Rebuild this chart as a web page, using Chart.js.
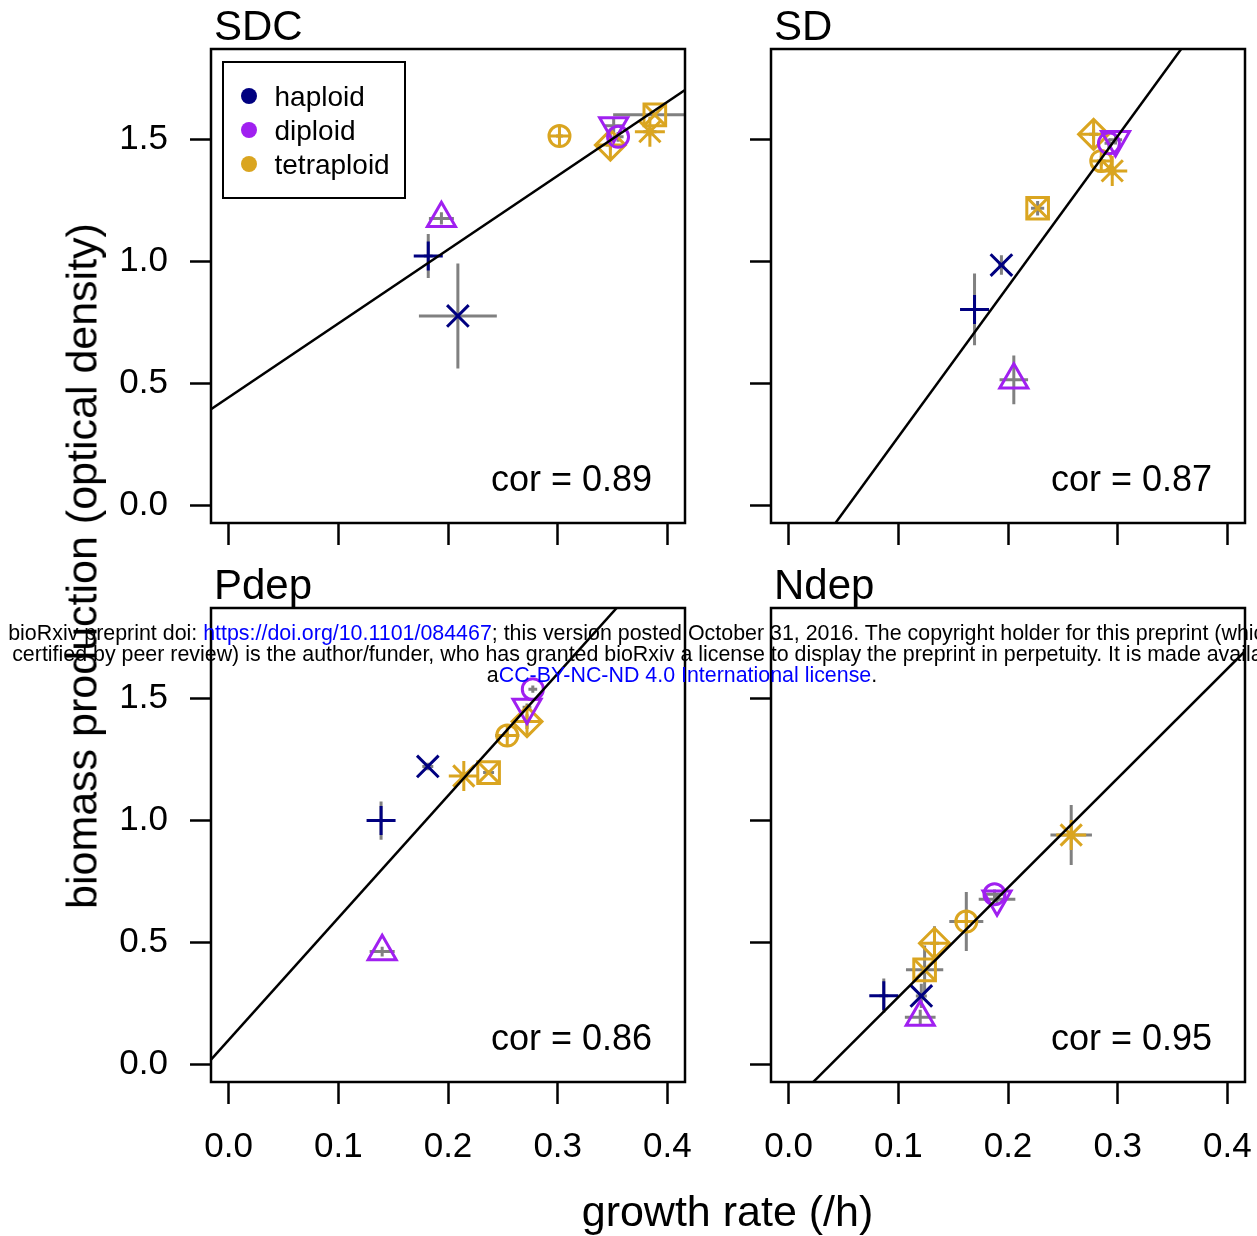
<!DOCTYPE html>
<html>
<head>
<meta charset="utf-8">
<script src="https://cdn.jsdelivr.net/npm/chart.js@4/dist/chart.umd.min.js"></script>
<style>
  html, body { margin:0; padding:0; background:#fff; }
  body { width:1257px; height:1236px; position:relative; overflow:hidden;
         font-family:"Liberation Sans", Arial, Helvetica, sans-serif; color:#000; }
  canvas { position:absolute; }
  .t { position:absolute; white-space:nowrap; line-height:1; }
  .legend { position:absolute; left:222px; top:61px; width:180px; height:134px; border:2.5px solid #000; background:#fff; }
  .dot { position:absolute; width:16px; height:16px; border-radius:50%; }
  .wm { position:absolute; width:2164px; text-align:center; white-space:nowrap;
        font-size:21.4px; line-height:21px; color:#000; }
  .wm a { color:#0000ff; text-decoration:none; }
</style>
</head>
<body>
<script>
// ---- data (order: haploid +, haploid x, diploid tri, diploid circle, diploid down-tri,
//      tetraploid circle-plus, tetraploid diamond-plus, tetraploid square-x, tetraploid asterisk)
const strains = ['H1','H2','D1','D2','D3','T1','T2','T3','T4'];
const ploidy  = ['haploid','haploid','diploid','diploid','diploid','tetraploid','tetraploid','tetraploid','tetraploid'];
const panelNames = ['SDC','SD','Pdep','Ndep'];
const corLabels  = ['cor = 0.89','cor = 0.87','cor = 0.86','cor = 0.95'];
const xTicks = [0.0, 0.1, 0.2, 0.3, 0.4];
const yTicks = [0.0, 0.5, 1.0, 1.5];
const xLimits = [0, 0.4];
const yLimits = [0, 1.8];

const sdcX    = [0.182, 0.209, 0.194, 0.355, 0.351, 0.3016, 0.348, 0.3885, 0.384];
const sdcY    = [1.023, 0.777, 1.177, 1.512, 1.557, 1.515, 1.478, 1.602, 1.533];
const sdcXErr = [0.004, 0.0355, 0.0114, 0.005, 0.009, 0.003, 0.004, 0.038, 0.006];
const sdcYErr = [0.09, 0.215, 0.025, 0.02, 0.03, 0.01, 0.02, 0.01, 0.02];

const sdX    = [0.1695, 0.194, 0.2053, 0.292, 0.298, 0.285, 0.278, 0.227, 0.295];
const sdY    = [0.804, 0.986, 0.515, 1.485, 1.50, 1.413, 1.522, 1.219, 1.372];
const sdXErr = [0.003, 0.003, 0.013, 0.004, 0.006, 0.004, 0.004, 0.006, 0.004];
const sdYErr = [0.147, 0.04, 0.10, 0.02, 0.02, 0.02, 0.02, 0.03, 0.02];

const pdepX    = [0.139, 0.1816, 0.140, 0.2773, 0.272, 0.254, 0.272, 0.237, 0.2144];
const pdepY    = [1.0, 1.222, 0.463, 1.539, 1.465, 1.349, 1.406, 1.197, 1.183];
const pdepXErr = [0.004, 0.005, 0.0114, 0.004, 0.004, 0.011, 0.004, 0.005, 0.004];
const pdepYErr = [0.078, 0.015, 0.02, 0.015, 0.015, 0.01, 0.03, 0.01, 0.01];

const ndepX    = [0.0868, 0.121, 0.120, 0.1877, 0.190, 0.162, 0.133, 0.124, 0.2576];
const ndepY    = [0.282, 0.281, 0.194, 0.698, 0.678, 0.586, 0.497, 0.388, 0.941];
const ndepXErr = [0.004, 0.005, 0.014, 0.01, 0.0167, 0.0155, 0.004, 0.017, 0.0189];
const ndepYErr = [0.07, 0.05, 0.03, 0.02, 0.02, 0.121, 0.07, 0.1, 0.123];

// regression lines (abline)
const fitIntercept = [0.443, -0.336, 0.100, -0.173];
const fitSlope     = [3.03, 6.17, 5.01, 4.49];

// ---- styles
const colors = { haploid:'#000080', diploid:'#A020F0', tetraploid:'#DAA520' };
const marks = {
  H1: [{s:'cross', r:14.5}],
  H2: [{s:'crossRot', r:15.3}],
  D1: [{s:'triangle', r:16.2}],
  D2: [{s:'circle', r:10.5}],
  D3: [{s:'triangle', r:16.2, rot:180}],
  T1: [{s:'circle', r:10.5}, {s:'cross', r:10.5}],
  T2: [{s:'rectRot', r:15}, {s:'cross', r:15}],
  T3: [{s:'rect', r:15.3}, {s:'crossRot', r:15.3}],
  T4: [{s:'star', r:15}]
};
const FONT = "'Liberation Sans', Arial, Helvetica, sans-serif";
Chart.defaults.font.family = FONT;
Chart.defaults.color = '#000';

const panelData = [
  {x:sdcX,  y:sdcY,  xe:sdcXErr,  ye:sdcYErr},
  {x:sdX,   y:sdY,   xe:sdXErr,   ye:sdYErr},
  {x:pdepX, y:pdepY, xe:pdepXErr, ye:pdepYErr},
  {x:ndepX, y:ndepY, xe:ndepXErr, ye:ndepYErr}
];

// panel geometry (canvas placement; chart area = plot box)
const geo = [
  {left:100, top:0,   w:600, h:560, axisW:111, padR:15, padT:49, axisH:37,  xLab:false, yLab:true},
  {left:700, top:0,   w:557, h:560, axisW:71,  padR:12, padT:49, axisH:37,  xLab:false, yLab:false},
  {left:100, top:560, w:600, h:676, axisW:111, padR:15, padT:48, axisH:154, xLab:true,  yLab:true},
  {left:700, top:560, w:557, h:676, axisW:71,  padR:12, padT:48, axisH:154, xLab:true,  yLab:false}
];

const errorBars = {
  id:'errorBars',
  beforeDatasetsDraw(chart, args, opts) {
    const {ctx, scales:{x, y}} = chart;
    ctx.save();
    ctx.strokeStyle = '#808080';
    ctx.lineWidth = 3;
    ctx.lineCap = 'butt';
    ctx.beginPath();
    ctx.rect(chart.chartArea.left, chart.chartArea.top, chart.chartArea.width, chart.chartArea.height);
    ctx.clip();
    opts.x.forEach((xv, i) => {
      const yv = opts.y[i];
      ctx.beginPath();
      ctx.moveTo(x.getPixelForValue(xv - opts.xe[i]), y.getPixelForValue(yv));
      ctx.lineTo(x.getPixelForValue(xv + opts.xe[i]), y.getPixelForValue(yv));
      ctx.moveTo(x.getPixelForValue(xv), y.getPixelForValue(yv - opts.ye[i]));
      ctx.lineTo(x.getPixelForValue(xv), y.getPixelForValue(yv + opts.ye[i]));
      ctx.stroke();
    });
    ctx.restore();
  }
};
const frame = {
  id:'frame',
  afterDraw(chart) {
    const {ctx, chartArea:a} = chart;
    ctx.save();
    ctx.strokeStyle = '#000';
    ctx.lineWidth = 2.5;
    ctx.strokeRect(a.left, a.top, a.width, a.height);
    ctx.restore();
  }
};

const xPad = (xLimits[1]-xLimits[0])*0.04;
const yPad = (yLimits[1]-yLimits[0])*0.04;
const xMin = xLimits[0]-xPad, xMax = xLimits[1]+xPad;
const yMin = yLimits[0]-yPad, yMax = yLimits[1]+yPad;

function zeroPad(s) { s.paddingLeft = 0; s.paddingRight = 0; s.paddingTop = 0; s.paddingBottom = 0; }

panelData.forEach((pd, p) => {
  const g = geo[p];
  const cv = document.createElement('canvas');
  cv.width = g.w; cv.height = g.h;
  cv.style.left = g.left + 'px'; cv.style.top = g.top + 'px';
  cv.style.width = g.w + 'px'; cv.style.height = g.h + 'px';
  document.body.appendChild(cv);

  const datasets = [];
  strains.forEach((st, i) => {
    const col = colors[ploidy[i]];
    marks[st].forEach((m, k) => {
      datasets.push({
        label: ploidy[i] + ' ' + st + (k ? ' (inner)' : ''),
        data: [{x: pd.x[i], y: pd.y[i]}],
        pointStyle: m.s,
        pointRadius: m.r,
        pointRotation: m.rot || 0,
        pointBorderColor: col,
        pointBackgroundColor: 'rgba(0,0,0,0)',
        pointBorderWidth: 3,
        showLine: false,
        order: 1
      });
    });
  });
  const a = fitIntercept[p], b = fitSlope[p];
  datasets.push({
    label: 'fit',
    data: [{x:xMin, y:a + b*xMin}, {x:xMax, y:a + b*xMax}],
    showLine: true, borderColor:'#000', borderWidth:2.5, pointRadius:0,
    order: 0
  });

  new Chart(cv, {
    type:'scatter',
    data:{datasets},
    options:{
      responsive:false, animation:false, events:[],
      devicePixelRatio:1,
      layout:{autoPadding:false, padding:{left:0, right:g.padR, top:g.padT, bottom:0}},
      plugins:{
        legend:{display:false}, title:{display:false}, tooltip:{enabled:false},
        errorBars:{x:pd.x, y:pd.y, xe:pd.xe, ye:pd.ye}
      },
      scales:{
        x:{
          type:'linear', min:xMin, max:xMax,
          afterBuildTicks: s => { s.ticks = xTicks.map(v => ({value:v})); },
          afterFit: s => { s.height = g.axisH; zeroPad(s); },
          border:{display:false},
          grid:{drawOnChartArea:false, drawTicks:true, tickLength:22, tickWidth:2.5, tickColor:'#000'},
          ticks:{display:g.xLab, font:{size:35, family:FONT}, color:'#000', padding:22,
                 maxRotation:0, autoSkip:false, callback: v => v.toFixed(1)}
        },
        y:{
          type:'linear', min:yMin, max:yMax,
          afterBuildTicks: s => { s.ticks = yTicks.map(v => ({value:v})); },
          afterFit: s => { s.width = g.axisW; zeroPad(s); },
          border:{display:false},
          grid:{drawOnChartArea:false, drawTicks:true, tickLength:21, tickWidth:2.5, tickColor:'#000'},
          ticks:{display:g.yLab, font:{size:35, family:FONT}, color:'#000', padding:22,
                 autoSkip:false, callback: v => v.toFixed(1)}
        }
      }
    },
    plugins:[errorBars, frame]
  });
});

// ---- text overlays
function addText(txt, left, baseline, size, extra) {
  const d = document.createElement('div');
  d.className = 't';
  d.textContent = txt;
  d.style.fontSize = size + 'px';
  d.style.top = (baseline - 0.8465*size) + 'px';
  if (extra && extra.right !== undefined) d.style.right = (1257 - extra.right) + 'px';
  else d.style.left = left + 'px';
  document.body.appendChild(d);
  return d;
}
const titlePos = [[214, 40.7], [774, 40.7], [214, 599.7], [774, 599.7]];
panelNames.forEach((n, i) => addText(n, titlePos[i][0], titlePos[i][1], 42));
const corPos = [[652, 491], [1212, 491], [652, 1050], [1212, 1050]];
corLabels.forEach((c, i) => addText(c, 0, corPos[i][1], 36, {right: corPos[i][0]}));

// axis titles
const xt = addText('growth rate (/h)', 0, 1226, 43);
xt.style.left = '727.5px'; xt.style.transform = 'translateX(-50%)';
const yt = document.createElement('div');
yt.className = 't';
yt.textContent = 'biomass production (optical density)';
yt.style.fontSize = '43px';
yt.style.left = '82px'; yt.style.top = '566px';
yt.style.transform = 'translate(-50%,-50%) rotate(-90deg)';
document.body.appendChild(yt);

// legend
const lg = document.createElement('div');
lg.className = 'legend';
document.body.appendChild(lg);
['haploid','diploid','tetraploid'].forEach((n, i) => {
  const dot = document.createElement('div');
  dot.className = 'dot';
  dot.style.background = colors[n];
  dot.style.left = (249 - 8 - 224.5) + 'px';
  dot.style.top = (96 + 34*i - 8 - 63.5) + 'px';
  lg.appendChild(dot);
  const d = addText(n, 274.5, 107 + 34*i, 28);
  d.style.zIndex = 2;
});

// bioRxiv watermark
const wm = document.createElement('div');
wm.className = 'wm';
wm.style.top = '623px';
wm.innerHTML = 'bioRxiv preprint doi: <a>https://doi.org/10.1101/084467</a>; this version posted October 31, 2016. The copyright holder for this preprint (which was not<br>' +
  'certified by peer review) is the author/funder, who has granted bioRxiv a license to display the preprint in perpetuity. It is made available under<br>' +
  'a<a>CC-BY-NC-ND 4.0 International license</a>.';
wm.style.left = (682 - 1082) + 'px';
wm.style.zIndex = 5;
document.body.appendChild(wm);
</script>
</body>
</html>
